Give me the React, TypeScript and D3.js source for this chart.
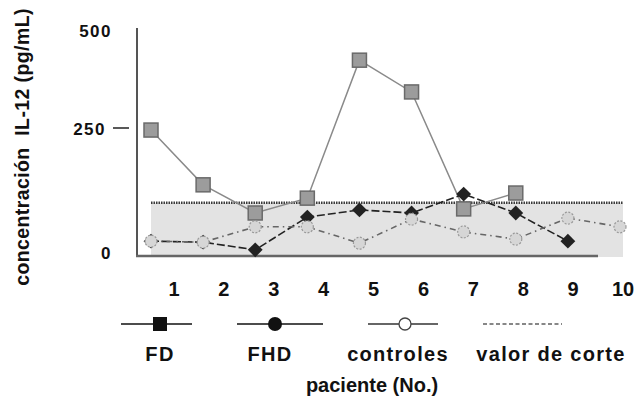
import * as d3 from "d3";

const pacientes = [1, 2, 3, 4, 5, 6, 7, 8, 9, 10];
const fd: (number | null)[] = [246, 139, 84, 113, 423, 342, 92, 123, null, null];
const fhd: (number | null)[] = [29, 27, 12, 76, 90, 84, 121, 84, 29, null];
const controles: (number | null)[] = [29, 27, 57, 57, 25, 72, 47, 33, 74, 57];
const valorCorte = 104;
const yTicks = [0, 250, 500];
const leyenda = ["FD", "FHD", "controles", "valor de corte"];

const W = 638;
const H = 396;
const font = "'Liberation Sans', Arial, sans-serif";

export default function App() {
  const x = d3.scaleLinear().domain([1, 10]).range([151, 620]);
  // label positions in the original sit slightly off the markers
  const xLab = d3.scaleLinear().domain([1, 10]).range([174, 623]);
  const y = d3.scaleLinear().domain([0, 250, 500]).range([256, 128, 30]);

  const line = d3
    .line<number | null>()
    .defined((d) => d != null)
    .x((_, i) => x(pacientes[i]))
    .y((d) => y(d as number));

  const pts = (arr: (number | null)[]) =>
    arr
      .map((v, i) => ({ v, p: pacientes[i] }))
      .filter((d) => d.v != null) as { v: number; p: number }[];

  const legendX = [160, 270, 398, 551];

  return (
    <svg
      width={W}
      height={H}
      style={{ position: "absolute", left: 0, top: 0, background: "#fff" }}
      fontFamily={font}
    >
      {/* reference band below cut-off */}
      <rect
        x={x(1)}
        y={y(valorCorte)}
        width={x(10) + 3 - x(1)}
        height={y(0) + 1 - y(valorCorte)}
        fill="#e3e3e3"
      />
      <line
        x1={x(1)}
        x2={x(10) + 3}
        y1={y(valorCorte)}
        y2={y(valorCorte)}
        stroke="#3a3a3a"
        strokeWidth={2.5}
        strokeDasharray="1.5,1"
      />

      {/* axes */}
      <line x1={137} x2={137} y1={28} y2={y(0)} stroke="#555" strokeWidth={2} />
      <line x1={136} x2={598} y1={y(0)} y2={y(0)} stroke="#666" strokeWidth={2.5} />
      <line x1={113} x2={129} y1={y(250)} y2={y(250)} stroke="#222" strokeWidth={1.5} />
      {yTicks.map((t) => (
        <text
          key={t}
          x={t === 250 ? 106 : 112}
          y={y(t) + (t === 0 ? 3 : 7)}
          textAnchor="end"
          fontSize={17}
          fontWeight="bold"
          letterSpacing={1.5}
          fill="#111"
        >
          {t}
        </text>
      ))}
      {pacientes.map((p) => (
        <text
          key={p}
          x={xLab(p)}
          y={296}
          textAnchor="middle"
          fontSize={20}
          fontWeight="bold"
          fill="#111"
        >
          {p}
        </text>
      ))}
      <text
        transform={`translate(29,147) rotate(-90)`}
        textAnchor="middle"
        fontSize={19.5}
        fontWeight="bold"
        letterSpacing={0.4}
        fill="#111"
      >
        {"concentración\u00a0\u00a0IL-12 (pg/mL)"}
      </text>

      {/* series lines */}
      <path d={line(fd) || ""} fill="none" stroke="#8a8a8a" strokeWidth={1.5} />
      <path d={line(fhd) || ""} fill="none" stroke="#222" strokeWidth={1.6} strokeDasharray="8,3" />
      <path
        d={line(controles) || ""}
        fill="none"
        stroke="#666"
        strokeWidth={1.6}
        strokeDasharray="6,4,1.5,4"
      />

      {/* markers */}
      {pts(fd).map((d) => (
        <rect
          key={"fd" + d.p}
          x={x(d.p) - 7}
          y={y(d.v) - 7}
          width={14}
          height={14}
          fill="#9c9c9c"
          stroke="#6a6a6a"
          strokeWidth={1.5}
        />
      ))}
      {pts(fhd).map((d) => (
        <path
          key={"fhd" + d.p}
          d={d3.symbol(d3.symbolDiamond2, 140)() || ""}
          transform={`translate(${x(d.p)},${y(d.v)})`}
          fill="#222"
        />
      ))}
      {pts(controles).map((d) => (
        <circle
          key={"c" + d.p}
          cx={x(d.p)}
          cy={y(d.v)}
          r={6}
          fill="#d6d6d6"
          stroke="#999"
          strokeWidth={1.2}
          strokeDasharray="2,1.5"
        />
      ))}

      {/* legend */}
      <g stroke="#111" strokeWidth={1.5}>
        <line x1={121} x2={192} y1={324} y2={324} />
        <line x1={237} x2={323} y1={324} y2={324} />
        <line x1={368} x2={438} y1={324} y2={324} stroke="#333" />
        <line x1={483} x2={562} y1={324} y2={324} strokeDasharray="4,2.5" strokeWidth={1.2} />
      </g>
      <rect x={153} y={317} width={14} height={14} fill="#111" />
      <circle cx={275} cy={324} r={7} fill="#111" />
      <circle cx={405} cy={324} r={6} fill="#fff" stroke="#444" strokeWidth={1.3} />
      {leyenda.map((l, i) => (
        <text
          key={l}
          x={legendX[i]}
          y={361}
          textAnchor="middle"
          fontSize={20}
          fontWeight="bold"
          letterSpacing={1.3}
          fill="#111"
        >
          {l}
        </text>
      ))}
      <text x={372} y={392} textAnchor="middle" fontSize={20} fontWeight="bold" fill="#111">
        paciente (No.)
      </text>
    </svg>
  );
}
